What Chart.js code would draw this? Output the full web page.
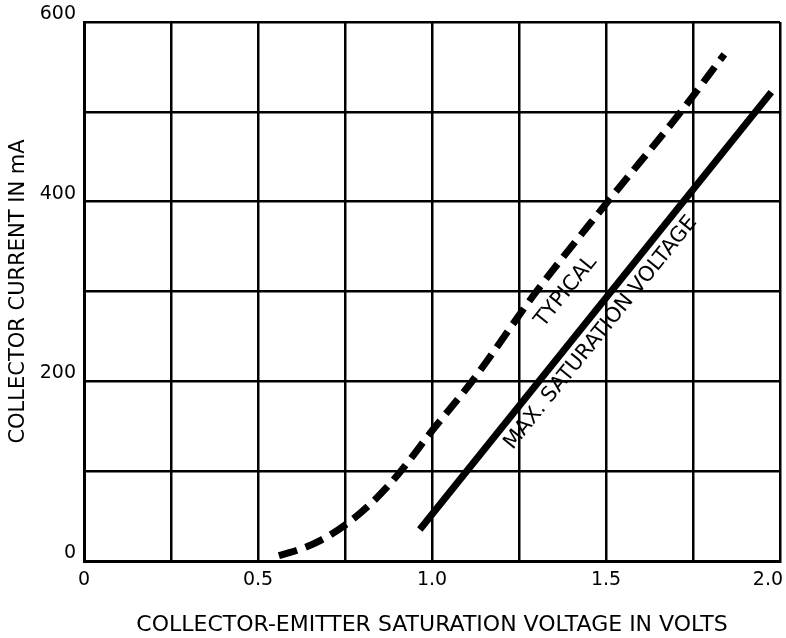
<!DOCTYPE html>
<html>
<head>
<meta charset="utf-8">
<script src="https://cdn.jsdelivr.net/npm/chart.js@4"></script>
<style>
  html, body { margin: 0; padding: 0; background: #fff; }
  #wrap { width: 786px; height: 638px; }
</style>
</head>
<body>
<div id="wrap"><canvas id="chart"></canvas></div>
<script>
// values (volts, mA)
const typicalV = [0.56, 0.62, 0.68, 0.75, 0.83, 0.906, 1.0, 1.115, 1.30, 1.505, 1.715, 1.84];
const typicalI = [6, 13, 23, 40, 66, 98, 145, 200, 300, 400, 500, 564];
const maxV = [0.965, 1.975];
const maxI = [35, 522];

const xLabelValues = [0, 0.5, 1.0, 1.5, 2.0];
const xLabelTexts = ['0', '0.5', '1.0', '1.5', '2.0'];
const yLabelValues = [0, 200, 400, 600];

const curveNotes = [
  { text: 'TYPICAL', v: 1.385, i: 300 },
  { text: 'MAX. SATURATION VOLTAGE', v: 1.485, i: 254 }
];

const FONT = "'DejaVu Sans', sans-serif";

function pts(xs, ys) {
  return xs.map((x, k) => ({ x: x, y: ys[k] }));
}

// writes the curve names along the lines
const notesPlugin = {
  id: 'notes',
  afterDatasetsDraw(chart) {
    const c = chart.ctx;
    const sx = chart.scales.x, sy = chart.scales.y;
    c.save();
    c.fillStyle = '#000';
    c.font = '21px ' + FONT;
    c.textAlign = 'center';
    c.textBaseline = 'middle';
    curveNotes.forEach(n => {
      c.save();
      c.translate(sx.getPixelForValue(n.v), sy.getPixelForValue(n.i));
      c.rotate(-51 * Math.PI / 180);
      c.fillText(n.text, 0, 0);
      c.restore();
    });
    c.restore();
  }
};

new Chart(document.getElementById('chart'), {
  type: 'line',
  data: {
    datasets: [
      {
        label: 'TYPICAL',
        data: pts(typicalV, typicalI),
        borderColor: '#000',
        borderWidth: 7,
        borderDash: [19, 9],
        borderCapStyle: 'butt',
        pointRadius: 0,
        cubicInterpolationMode: 'monotone',
        fill: false
      },
      {
        label: 'MAX. SATURATION VOLTAGE',
        data: pts(maxV, maxI),
        borderColor: '#000',
        borderWidth: 7,
        borderCapStyle: 'butt',
        pointRadius: 0,
        tension: 0,
        fill: false
      }
    ]
  },
  options: {
    responsive: true,
    maintainAspectRatio: false,
    animation: false,
    layout: { padding: { top: 22, right: 6, left: 0, bottom: 0 } },
    plugins: {
      legend: { display: false },
      tooltip: { enabled: false }
    },
    scales: {
      x: {
        type: 'linear',
        min: 0,
        max: 2,
        afterFit(scale) {
          scale.height = 77;
          scale.paddingLeft = 0;
          scale.paddingRight = 0;
        },
        border: { display: true, color: '#000', width: 3 },
        grid: { color: '#000', lineWidth: 2.5, drawTicks: false },
        ticks: {
          stepSize: 0.25,
          autoSkip: false,
          maxRotation: 0,
          padding: 8,
          color: '#000',
          font: { family: FONT, size: 19 },
          callback(v) {
            const k = xLabelValues.indexOf(v);
            if (k < 0) return '';
            // last label sits inside the frame, as in the print
            return k === xLabelValues.length - 1 ? xLabelTexts[k] + '\u2007\u2007' : xLabelTexts[k];
          }
        },
        title: {
          display: true,
          text: 'COLLECTOR-EMITTER SATURATION VOLTAGE IN VOLTS',
          color: '#000',
          font: { family: FONT, size: 22 },
          padding: { top: 12, bottom: 0 }
        }
      },
      y: {
        type: 'linear',
        min: 0,
        max: 600,
        afterFit(scale) {
          scale.width = 84;
          scale.paddingTop = 0;
          scale.paddingBottom = 0;
        },
        border: { display: true, color: '#000', width: 3 },
        grid: { color: '#000', lineWidth: 2.5, drawTicks: false },
        ticks: {
          stepSize: 100,
          autoSkip: false,
          padding: 8,
          labelOffset: -8,
          color: '#000',
          font: { family: FONT, size: 19 },
          callback(v) {
            return yLabelValues.includes(v) ? String(v) : '';
          }
        },
        title: {
          display: true,
          text: 'COLLECTOR CURRENT IN mA',
          color: '#000',
          font: { family: FONT, size: 21 },
          padding: { top: 6, bottom: 0 }
        }
      }
    }
  },
  plugins: [notesPlugin]
});
</script>
</body>
</html>
